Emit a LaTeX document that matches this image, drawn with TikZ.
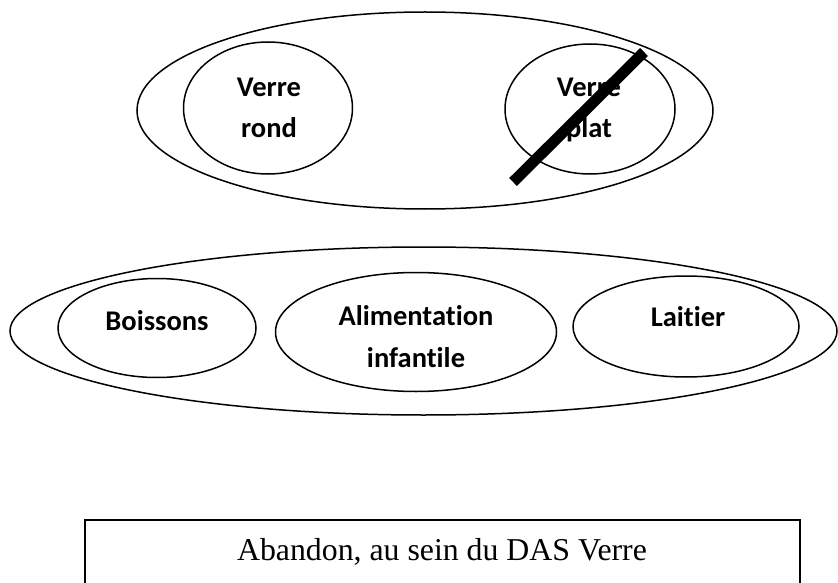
\documentclass[tikz,border=0pt]{standalone}
\usepackage{fontspec}
\setmainfont{Liberation Serif}
\newfontfamily\calfont{Carlito}[Ligatures=NoCommon]
\usetikzlibrary{shapes.geometric}
\begin{document}
\begin{tikzpicture}[x=1pt,y=-1pt,
  oval/.style={draw, ellipse, line width=1.5pt, inner sep=0pt, outer sep=0pt},
  lbl/.style={font=\calfont\bfseries\fontsize{28.5}{34}\selectfont, anchor=base, inner sep=0pt},
  captext/.style={font=\fontsize{31.8}{38}\selectfont, anchor=base, inner sep=0pt},
  strike/.style={line width=11pt, black},
  frame/.style={draw, line width=1.5pt}]
\clip (0,0) rectangle (838,583);
\fill[white] (0,0) rectangle (838,583);
% top group
\node[oval, minimum width=576pt, minimum height=197pt] (verre) at (425,110.5) {};
\node[oval, minimum width=169pt, minimum height=132pt] (rond) at (268,108) {};
\node[oval, minimum width=170pt, minimum height=130pt] (plat) at (590,109) {};
\node[lbl] (rondA) at (269,97) {Verre};
\node[lbl] (rondB) at (269,138) {rond};
\node[lbl] (platA) at (589,97) {Verre};
\node[lbl] (platB) at (589,138) {plat};
\coordinate (s1) at (513,182);
\coordinate (s2) at (644,52);
\draw[strike] (s1) -- (s2);
% bottom group
\node[oval, minimum width=827pt, minimum height=168pt] (autres) at (423.5,331) {};
\node[oval, minimum width=198pt, minimum height=99pt] (boi) at (157,328) {};
\node[oval, minimum width=281pt, minimum height=119pt] (ali) at (416,332) {};
\node[oval, minimum width=226pt, minimum height=101pt] (lai) at (686,326.5) {};
\node[lbl] (boiT) at (157,330) {Boissons};
\node[lbl] (aliA) at (416,325) {Alimentation};
\node[lbl] (aliB) at (416,367) {infantile};
\node[lbl] (laiT) at (688,326) {Laitier};
% caption box
\coordinate (bl) at (85,600);
\coordinate (tr) at (800,520);
\draw[frame] (bl) rectangle (tr);
\node[captext] (abandon) at (442,560) {Abandon, au sein du DAS Verre};
\end{tikzpicture}
\end{document}
